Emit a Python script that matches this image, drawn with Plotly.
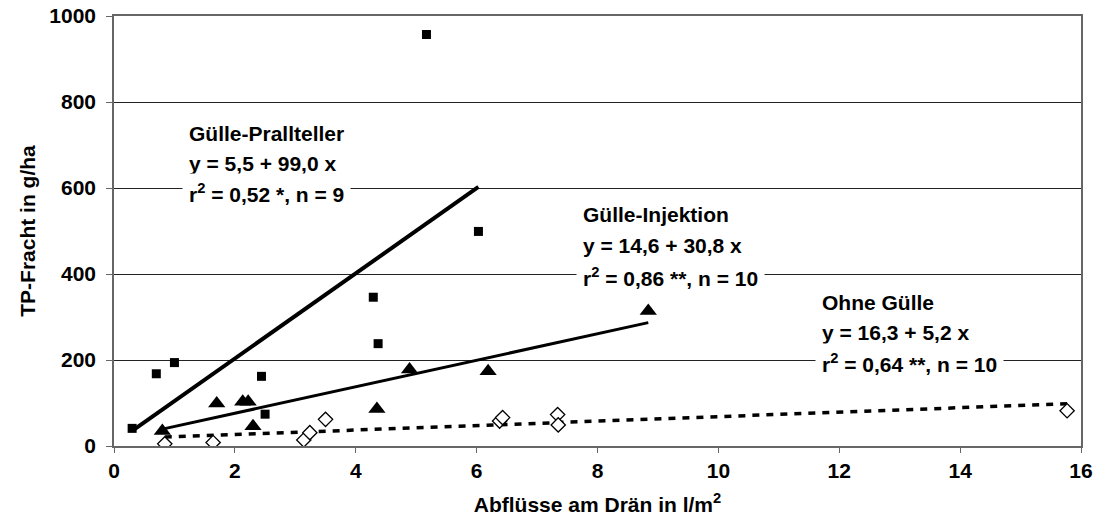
import numpy as np
import plotly.graph_objects as go

# Abfluss (l/m²) und TP-Fracht (g/ha) je Variante
prall_x = [0.30, 0.70, 1.00, 2.44, 2.50, 4.29, 4.37, 5.17, 6.03]
prall_y = [41, 168, 194, 162, 74, 346, 238, 957, 499]

inj_x = [0.80, 1.70, 2.13, 2.22, 2.30, 4.35, 4.89, 6.19, 8.84]
inj_y = [35, 99, 103, 103, 46, 86, 178, 174, 314]

ohne_x = [0.84, 1.64, 3.14, 3.24, 3.50, 6.38, 6.43, 7.34, 7.35, 15.77]
ohne_y = [5, 8, 14, 31, 62, 58, 66, 73, 49, 82]

# Regressionsgleichungen: y = a + b x
fits = {
    "prall": (5.5, 99.0),
    "inj": (14.6, 30.8),
    "ohne": (16.3, 5.2),
}

x_ticks = [0, 2, 4, 6, 8, 10, 12, 14, 16]
y_ticks = [0, 200, 400, 600, 800, 1000]

FONT = "Liberation Sans, Arial, sans-serif"
TXT = dict(family=FONT, size=21, color="black")


def fit_line(xs, key):
    a, b = fits[key]
    xr = np.array([min(xs), max(xs)])
    return xr, a + b * xr


fig = go.Figure()

# Regressionsgeraden
for xs, key, width, dash in [
    (prall_x, "prall", 4, "solid"),
    (inj_x, "inj", 3, "solid"),
    (ohne_x, "ohne", 3.5, "7px,7px"),
]:
    lx, ly = fit_line(xs, key)
    fig.add_trace(go.Scatter(x=lx, y=ly, mode="lines",
                             line=dict(color="black", width=width, dash=dash),
                             showlegend=False, hoverinfo="skip"))

# Messpunkte
fig.add_trace(go.Scatter(x=prall_x, y=prall_y, mode="markers", name="Gülle-Prallteller",
                         marker=dict(symbol="square", size=9, color="black"),
                         showlegend=False))
fig.add_trace(go.Scatter(x=inj_x, y=inj_y, mode="markers", name="Gülle-Injektion",
                         marker=dict(symbol="triangle-up", size=15, color="black"),
                         showlegend=False))
fig.add_trace(go.Scatter(x=ohne_x, y=ohne_y, mode="markers", name="Ohne Gülle",
                         marker=dict(symbol="diamond", size=11, color="white",
                                     line=dict(color="black", width=1.3)),
                         showlegend=False))

# Beschriftung der Geraden
labels = [
    (1.12, [726, 657, 589], ["Gülle-Prallteller", "y = 5,5 + 99,0 x",
                             "r<sup>2</sup> = 0,52 *, n = 9"]),
    (7.64, [538, 466, 392], ["Gülle-Injektion", "y = 14,6 + 30,8 x",
                             "r<sup>2</sup> = 0,86 **, n = 10"]),
    (11.60, [334, 264, 193], ["Ohne Gülle", "y = 16,3 + 5,2 x",
                              "r<sup>2</sup> = 0,64 **, n = 10"]),
]
for x0, ys, lines in labels:
    for i, (yy, t) in enumerate(zip(ys, lines)):
        fig.add_annotation(x=x0, y=yy, xref="x", yref="y", text="<b>%s</b>" % t,
                           showarrow=False, xanchor="left", yanchor="middle",
                           font=TXT, bgcolor="white" if i == 2 else None,
                           borderpad=6)

fig.update_layout(
    width=1099, height=528,
    margin=dict(l=114, r=18, t=16, b=82, autoexpand=False),
    paper_bgcolor="white", plot_bgcolor="white",
    font=dict(family=FONT, color="black"),
)
fig.update_xaxes(
    range=[0, 16], tickvals=x_ticks, ticktext=["<b>%d</b>" % v for v in x_ticks],
    showgrid=False, zeroline=False, automargin=False,
    showline=True, linecolor="#666666", linewidth=1.5, mirror=True,
    ticks="outside", ticklen=5, tickcolor="#666666", tickfont=dict(size=21),
    title=dict(text="<b>Abflüsse am Drän in l/m<sup>2</sup></b>", font=dict(size=21),
               standoff=16),
)
fig.update_yaxes(
    range=[0, 1000], tickvals=y_ticks, ticktext=["<b>%d</b>" % v for v in y_ticks],
    showgrid=True, gridcolor="#222222", gridwidth=1, zeroline=False, automargin=False,
    showline=True, linecolor="#666666", linewidth=1.5, mirror=True,
    ticks="outside", ticklen=6, tickcolor="#666666", tickfont=dict(size=21),
    ticklabelstandoff=6,
    title=dict(text="<b>TP-Fracht in g/ha</b>", font=dict(size=21), standoff=8),
)

fig.write_html("out.html")
